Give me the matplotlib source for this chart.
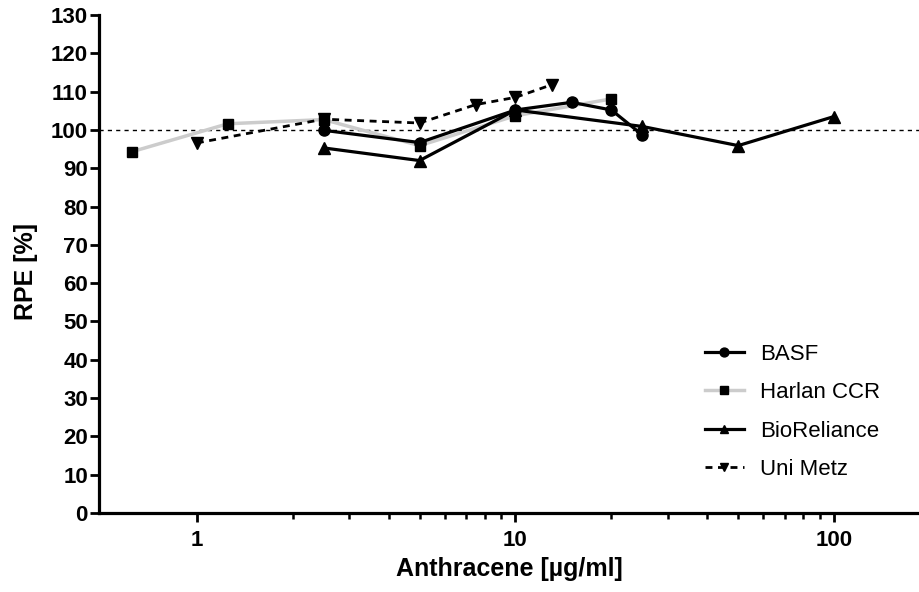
import numpy as np
import matplotlib.pyplot as plt
from matplotlib.ticker import FixedLocator, NullFormatter

plt.rcParams['font.family'] = ['Liberation Sans', 'DejaVu Sans']

basf_x = [2.5, 5, 10, 15, 20, 25]
basf_y = [99.9, 96.7, 105.2, 107.2, 105.2, 98.7]

harlan_x = [0.625, 1.25, 2.5, 5, 10, 20]
harlan_y = [94.3, 101.6, 102.7, 95.9, 103.7, 108.1]

bio_x = [2.5, 5, 10, 25, 50, 100]
bio_y = [95.3, 92.0, 105.2, 100.9, 95.9, 103.5]

metz_x = [1, 2.5, 5, 7.5, 10, 13]
metz_y = [96.6, 102.8, 101.8, 106.6, 108.5, 111.8]

fig = plt.figure(figsize=(9.2, 5.92), dpi=100)
ax = fig.add_axes([0.1076, 0.1334, 0.8924, 0.8413])

ax.axhline(100, color='black', lw=1.0, ls=(0, (3, 3)), zorder=1)

ax.plot(harlan_x, harlan_y, color='#cccccc', lw=2.5, marker='s', ms=7.5,
        mfc='black', mec='black', label='Harlan CCR', zorder=2)
ax.plot(basf_x, basf_y, color='black', lw=2.3, marker='o', ms=8,
        label='BASF', zorder=3)
ax.plot(bio_x, bio_y, color='black', lw=2.3, marker='^', ms=8,
        label='BioReliance', zorder=3)
ax.plot(metz_x, metz_y, color='black', lw=2.0, ls=(0, (2.5, 2)), marker='v', ms=8,
        label='Uni Metz', zorder=3)

ax.set_xscale('log')
ax.set_xlim(0.493, 186)
ax.set_ylim(0, 130)
ax.set_yticks(np.arange(0, 131, 10))
ax.xaxis.set_major_locator(FixedLocator([1, 10, 100]))
ax.set_xticklabels(['1', '10', '100'])
ax.xaxis.set_minor_locator(FixedLocator([2, 3, 4, 5, 6, 7, 8, 9,
                                         20, 30, 40, 50, 60, 70, 80, 90]))
ax.xaxis.set_minor_formatter(NullFormatter())

for s in ['top', 'right']:
    ax.spines[s].set_visible(False)
for s in ['left', 'bottom']:
    ax.spines[s].set_linewidth(2.3)

ax.tick_params(axis='both', which='major', width=2, length=6.5, labelsize=16)
ax.tick_params(axis='x', which='minor', width=1.8, length=4.5)
ax.tick_params(axis='x', which='major', pad=6)
ax.tick_params(axis='y', which='major', pad=1.5)
for lab in ax.get_xticklabels() + ax.get_yticklabels():
    lab.set_fontweight('bold')

ax.set_xlabel('Anthracene [µg/ml]', fontsize=18, fontweight='bold', labelpad=4)
ax.set_ylabel('RPE [%]', fontsize=18, fontweight='bold')
ax.yaxis.set_label_coords(-0.074, 0.484)

handles, labels = ax.get_legend_handles_labels()
order = [1, 0, 2, 3]
fig.legend([handles[i] for i in order], [labels[i] for i in order],
           loc='upper left', bbox_to_anchor=(696 / 920, 1 - 335 / 592),
           frameon=False, fontsize=16, labelspacing=0.78, handlelength=1.75,
           handletextpad=0.72, borderaxespad=0, borderpad=0.4, markerscale=0.8)

plt.savefig('out.png', dpi=100)
